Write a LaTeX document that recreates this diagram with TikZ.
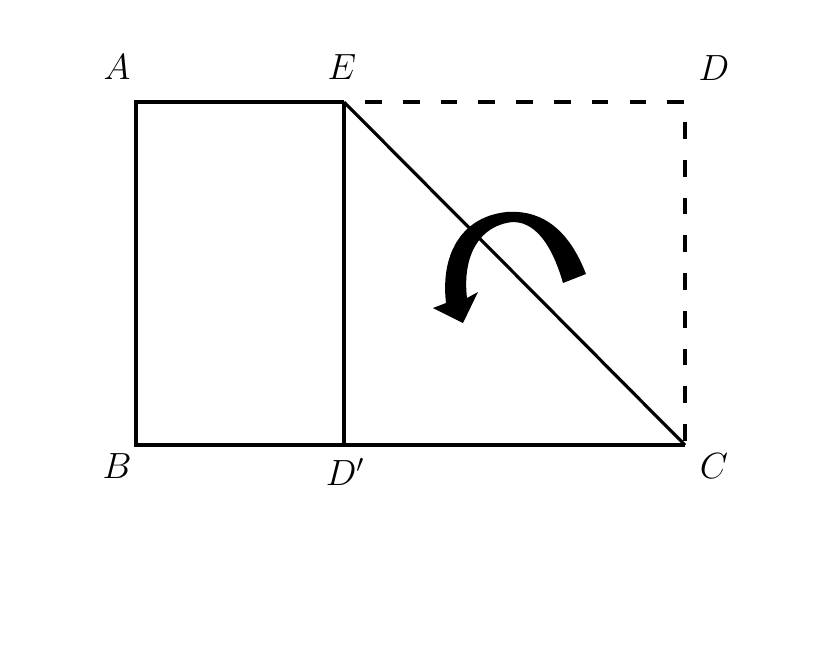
\documentclass[tikz,border=0pt]{standalone}
\tikzset{
  lbl/.style={font=\fontsize{20}{24}\selectfont},
  edge/.style={black,line width=2pt},
  fold/.style={black,line width=2pt,dash pattern=on 9.5pt off 12pt,dash phase=9.5pt}
}
\begin{document}
\begin{tikzpicture}[x=0.02cm,y=-0.02cm]
    \useasboundingbox (0,0) rectangle (816,650);
    \coordinate (A) at (136,102);
    \coordinate (E) at (344,102);
    \coordinate (D) at (685,102);
    \coordinate (B) at (136,445);
    \coordinate (Dp) at (344,445);
    \coordinate (C) at (685,445);
\begin{scope}[edge]
    \draw (E) -- (A) -- (B) -- (Dp) -- (C);
    \draw (E) -- (Dp);
    \draw[line width=1.8pt] (E) -- (C);
\end{scope}
    \draw[fold] (E) -- (D) -- (C);
    % rotation arrow
    \fill[black] (586,274) .. controls (566,222) and (535,210) .. (507,212)
      .. controls (465,216) and (440,250) .. (446,303)
      -- (433,308) -- (463,323) -- (478,292) -- (467,298)
      .. controls (462,255) and (480,225) .. (513,222)
      .. controls (540,222) and (555,255) .. (563,283) -- cycle;
    \node[lbl] (lA) at (117,67) {$A$};
    \node[lbl] (lE) at (342,67) {$E$};
    \node[lbl] (lD) at (714,68) {$D$};
    \node[lbl] (lB) at (117,466) {$B$};
    \node[lbl] (lDp) at (345,472) {$D'$};
    \node[lbl] (lC) at (714,466) {$C$};
\end{tikzpicture}
\end{document}
